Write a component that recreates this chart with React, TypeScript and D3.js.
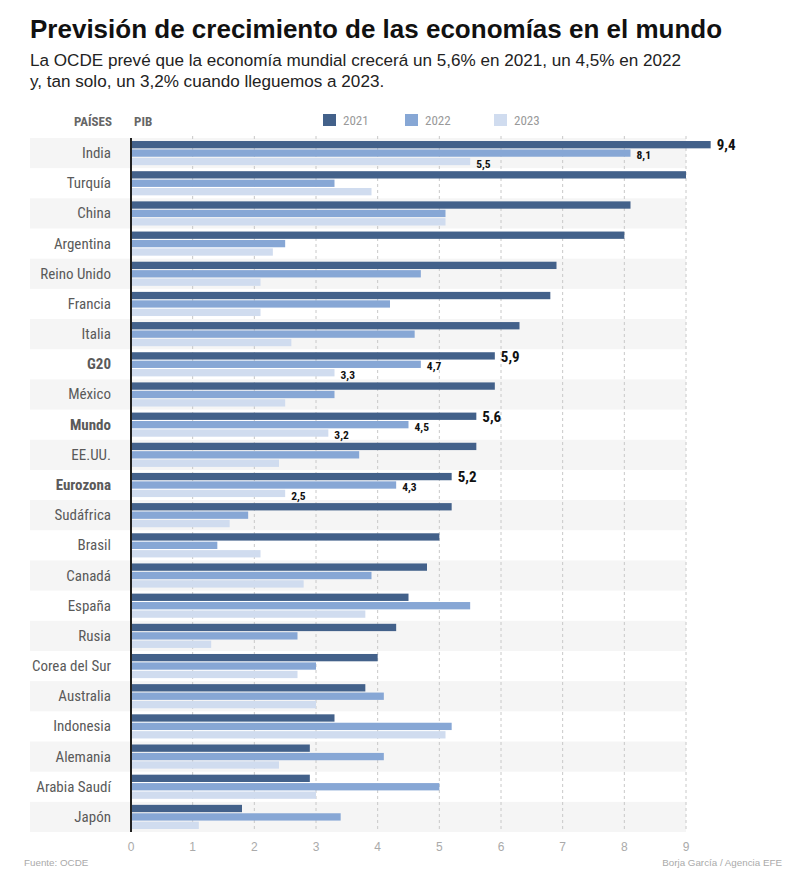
import React from "react";
import * as d3 from "d3";

const countries = [
  "India", "Turquía", "China", "Argentina", "Reino Unido", "Francia", "Italia",
  "G20", "México", "Mundo", "EE.UU.", "Eurozona", "Sudáfrica", "Brasil", "Canadá",
  "España", "Rusia", "Corea del Sur", "Australia", "Indonesia", "Alemania",
  "Arabia Saudí", "Japón",
];
const boldRows = ["G20", "Mundo", "Eurozona"];
const labeledRows = ["India", "G20", "Mundo", "Eurozona"];
const years = ["2021", "2022", "2023"];
const v2021 = [9.4, 9.0, 8.1, 8.0, 6.9, 6.8, 6.3, 5.9, 5.9, 5.6, 5.6, 5.2, 5.2, 5.0, 4.8, 4.5, 4.3, 4.0, 3.8, 3.3, 2.9, 2.9, 1.8];
const v2022 = [8.1, 3.3, 5.1, 2.5, 4.7, 4.2, 4.6, 4.7, 3.3, 4.5, 3.7, 4.3, 1.9, 1.4, 3.9, 5.5, 2.7, 3.0, 4.1, 5.2, 4.1, 5.0, 3.4];
const v2023 = [5.5, 3.9, 5.1, 2.3, 2.1, 2.1, 2.6, 3.3, 2.5, 3.2, 2.4, 2.5, 1.6, 2.1, 2.8, 3.8, 1.3, 2.7, 3.0, 5.1, 2.4, 3.0, 1.1];
const xTicks = [0, 1, 2, 3, 4, 5, 6, 7, 8, 9];
const colors = ["#43618a", "#87a7d5", "#d0dcef"];

const W = 800;
const H = 875;
const NARROW = "'Liberation Sans Narrow', 'Arial Narrow', 'Roboto Condensed', 'DejaVu Sans Condensed', sans-serif";
const SANS = "'Liberation Sans', Arial, sans-serif";

export default function App() {
  const series = [v2021, v2022, v2023];
  const x = d3.scaleLinear().domain([0, 9]).range([131, 686]);
  const y = d3.scaleBand<string>().domain(countries).range([138, 832]).paddingInner(0).paddingOuter(0);
  const bw = y.bandwidth();
  const inner = d3.scaleBand<string>().domain(years).range([bw * 0.1, bw * 0.9]).paddingInner(0.13).paddingOuter(0);
  const fmtNum = (v: number) => d3.format(".1f")(v).replace(".", ",");

  return (
    <svg width={W} height={H} style={{ position: "absolute", left: 0, top: 0, background: "#fff" }}>
      <rect x={0} y={0} width={W} height={H} fill="#fff" />
      <text x={30} y={38} fontFamily={SANS} fontWeight="bold" fontSize={26} fill="#111">
        Previsión de crecimiento de las economías en el mundo
      </text>
      <text x={30} y={66} fontFamily={SANS} fontSize={17.1} fill="#222">
        La OCDE prevé que la economía mundial crecerá un 5,6% en 2021, un 4,5% en 2022
      </text>
      <text x={30} y={87} fontFamily={SANS} fontSize={17.1} fill="#222">
        y, tan solo, un 3,2% cuando lleguemos a 2023.
      </text>

      <text x={112} y={126} textAnchor="end" fontFamily={NARROW} fontWeight="bold" fontSize={13} fill="#666">PAÍSES</text>
      <text x={134} y={126} fontFamily={NARROW} fontWeight="bold" fontSize={13} fill="#666">PIB</text>

      {years.map((yr, i) => {
        const lx = [323, 405, 494][i];
        return (
          <g key={yr}>
            <rect x={lx} y={114} width={13} height={12} fill={colors[i]} />
            <text x={lx + 20} y={125} fontFamily={NARROW} fontSize={13} fill="#999">{yr}</text>
          </g>
        );
      })}

      {countries.map((c, i) =>
        i % 2 === 0 ? (
          <rect key={"s" + c} x={30} y={y(c)!} width={x(9) - 30} height={bw} fill="#f5f5f5" />
        ) : null
      )}

      {xTicks.slice(1).map((t) => (
        <line key={"g" + t} x1={x(t)} x2={x(t)} y1={136} y2={832} stroke="#c8c8c8" strokeWidth={1} strokeDasharray="3,3" />
      ))}

      {countries.map((c) => (
        <text key={"l" + c} x={111} y={y(c)! + bw / 2 + 5} textAnchor="end" fontFamily={NARROW}
          fontSize={15} fontWeight={boldRows.includes(c) ? "bold" : "normal"} fill="#5a5a5a">
          {c}
        </text>
      ))}

      {countries.map((c, ci) =>
        series.map((s, si) => {
          const by = y(c)! + inner(years[si])!;
          return (
            <rect key={c + si} x={x(0)} y={by} width={x(s[ci]) - x(0)} height={inner.bandwidth()} fill={colors[si]} />
          );
        })
      )}

      {countries.map((c, ci) =>
        labeledRows.includes(c)
          ? series.map((s, si) => {
              const by = y(c)! + inner(years[si])! + inner.bandwidth();
              return (
                <text key={"v" + c + si} x={x(s[ci]) + 6} y={by + (si === 0 ? 2 : 2.5)} fontFamily={NARROW}
                  fontWeight="bold" fontSize={si === 0 ? 15 : 11.5} fill="#111">
                  {fmtNum(s[ci])}
                </text>
              );
            })
          : null
      )}

      <line x1={x(0)} x2={x(0)} y1={138} y2={832} stroke="#222" strokeWidth={2} />

      {xTicks.map((t) => (
        <text key={"t" + t} x={x(t)} y={851} textAnchor="middle" fontFamily={SANS} fontSize={12} fill="#aaa">{t}</text>
      ))}

      <text x={24} y={866} fontFamily={SANS} fontSize={9.8} fill="#aaa">Fuente: OCDE</text>
      <text x={782} y={866} textAnchor="end" fontFamily={SANS} fontSize={9.8} fill="#aaa">Borja García / Agencia EFE</text>
    </svg>
  );
}
